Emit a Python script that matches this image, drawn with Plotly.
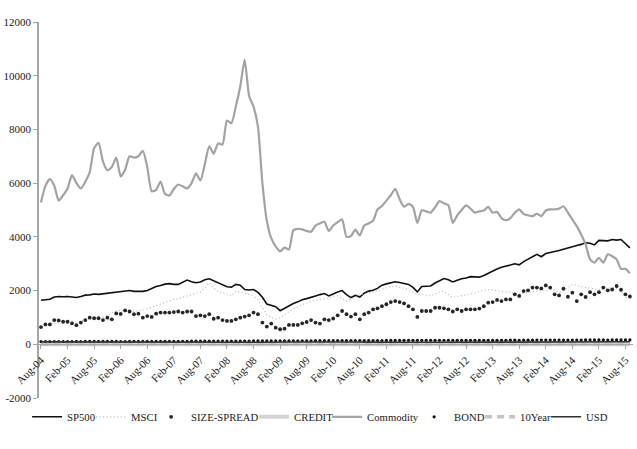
import plotly.graph_objects as go
import pandas as pd

# ---- data (monthly, Aug-04 .. Sep-15) ----
sp500 = [
    1640, 1660, 1680, 1760, 1780, 1770, 1780, 1760, 1740, 1780, 1830, 1840,
    1870, 1860, 1880, 1900, 1940, 1950, 1970, 2000, 2000, 1970, 1960, 1970,
    2000, 2090, 2150, 2190, 2240, 2260, 2230, 2230, 2300, 2390, 2330, 2290,
    2320, 2400, 2440, 2360, 2300, 2200, 2140, 2130, 2230, 2200, 2040, 2020,
    2040, 1930, 1750, 1500, 1460, 1400, 1250, 1340, 1450, 1520, 1580, 1660,
    1700, 1740, 1800, 1850, 1890, 1800, 1880, 1950, 2000, 1850, 1740, 1820,
    1760, 1900, 1980, 2010, 2080, 2200, 2250, 2300, 2330, 2300, 2270, 2230,
    2120, 1950, 2150, 2170, 2170, 2280, 2380, 2450, 2400, 2320, 2380, 2440,
    2470, 2520, 2510, 2500, 2560, 2650, 2730, 2800, 2870, 2900, 2950, 3000,
    2960, 3080, 3180, 3260, 3350, 3260, 3380, 3420, 3450, 3490, 3540, 3590,
    3650, 3680, 3720, 3780, 3760, 3700, 3870, 3850, 3850, 3900, 3880, 3900,
    3750, 3590,
]
msci = [
    660, 700, 740, 800, 830, 850, 860, 850, 820, 880, 920, 960,
    990, 1000, 1020, 1080, 1180, 1240, 1260, 1250, 1240, 1240, 1250, 1260,
    1320, 1380, 1440, 1500, 1540, 1600, 1670, 1700, 1740, 1800, 1850, 1900,
    1950, 2100, 2290, 2100, 1950, 1920, 1850, 1800, 1980, 1950, 1900, 1850,
    1800, 1650, 1400, 1100, 1000, 930, 990, 1100, 1240, 1320, 1400, 1480,
    1540, 1600, 1630, 1660, 1690, 1720, 1780, 1800, 1700, 1610, 1680, 1760,
    1850, 1880, 1920, 1950, 1980, 2050, 2100, 2150, 2170, 2120, 2080, 2040,
    1950, 1860, 1860, 1830, 1800, 1880, 1950, 1980, 1850, 1740, 1780, 1810,
    1840, 1860, 1900, 1960, 2000, 2040, 2020, 2000, 1980, 1970, 1930, 1890,
    1860, 1900, 1940, 1970, 1980, 2000, 2020, 2030, 2040, 1920, 2000, 2100,
    2230, 2200, 2150, 2110, 2080, 2060, 2040, 2070, 2090, 2110, 2080, 1980,
    1740, 1760,
]
size_spread = [
    640, 740, 740, 900, 890, 840, 840, 780, 710, 810, 900, 990,
    970, 970, 900, 990, 930, 1150, 1130, 1260, 1220, 1120, 1140, 990,
    1050, 1020, 1140, 1180, 1180, 1180, 1200, 1220, 1180, 1220, 1220, 1050,
    1080, 1050, 1120, 950, 990, 900, 870, 870, 930, 990, 1030, 1080,
    1180, 1120, 810, 660, 770, 620, 560, 580, 720, 720, 720, 780,
    830, 900, 810, 770, 930, 900, 960, 1080, 1240, 1120, 1030, 1120,
    930, 1120, 1180, 1300, 1340, 1420, 1490, 1570, 1610, 1570, 1520, 1420,
    1300, 1020, 1240, 1240, 1240, 1360, 1360, 1340, 1300, 1220, 1300, 1240,
    1300, 1300, 1300, 1330, 1420, 1550, 1570, 1650, 1610, 1670, 1670, 1860,
    1800, 1980, 2010, 2110, 2110, 2080, 2190, 2110, 1860, 1820, 2070, 1770,
    1920, 1610, 1860, 1760, 1940, 1860, 1940, 2110, 2010, 2040, 2170, 2030,
    1860, 1780,
]
credit = [
    1.8, 1.8, 1.7, 1.7, 1.6, 1.6, 1.6, 1.7, 1.8, 1.8, 1.7, 1.7,
    1.7, 1.7, 1.8, 1.8, 1.7, 1.7, 1.7, 1.8, 1.8, 1.7, 1.6, 1.6,
    1.6, 1.6, 1.6, 1.7, 1.7, 1.8, 1.9, 2.0, 2.3, 2.6, 2.8, 2.7,
    2.9, 3.0, 3.2, 3.3, 3.4, 3.6, 3.5, 3.9, 4.2, 5.0, 6.0, 6.3,
    6.1, 5.9, 5.8, 5.3, 4.7, 4.1, 3.6, 3.2, 3.0, 2.8, 2.6, 2.4,
    2.3, 2.4, 2.6, 2.7, 2.6, 2.5, 2.4, 2.3, 2.3, 2.3, 2.2, 2.1,
    2.1, 2.0, 2.1, 2.0, 2.2, 2.5, 2.8, 2.9, 2.8, 2.7, 2.7, 2.8,
    2.7, 2.6, 2.6, 2.5, 2.4, 2.3, 2.3, 2.2, 2.1, 2.0, 1.9, 1.9,
    1.9, 1.9, 1.8, 1.7, 1.7, 1.8, 1.8, 1.7, 1.7, 1.6, 1.6, 1.6,
    1.6, 1.6, 1.6, 1.7, 1.7, 1.7, 1.8, 1.8, 1.9, 2.0, 2.0, 2.1,
    2.2, 2.3, 2.3, 2.4, 2.4, 2.5, 2.5, 2.6, 2.7, 2.7, 2.8, 2.9,
    2.9, 3.0,
]
commodity = [
    5280, 5900, 6150, 5900, 5350, 5550, 5800, 6300, 6000, 5800, 6050, 6400,
    7300, 7500, 6800, 6480, 6600, 6950, 6250, 6500, 7000, 6950, 7000, 7200,
    6600, 5700, 5750, 6060, 5600, 5540, 5780, 5950, 5880, 5800, 6000, 6360,
    6100, 6700, 7370, 7100, 7480, 7440, 8330, 8230, 8850, 9600, 10590, 9250,
    8850, 8100, 6000, 4600, 3950, 3650, 3460, 3600, 3530, 4250, 4300, 4280,
    4220, 4190, 4420, 4500, 4560, 4220, 4420, 4550, 4650, 4000, 4030, 4270,
    4050, 4420, 4500, 4600, 5020, 5150, 5350, 5550, 5790, 5400, 5120, 5230,
    5120, 4520, 4990, 4950, 4900, 5100, 5330, 5250, 5180, 4520, 4800, 5000,
    5170, 5050, 4900, 4950, 4980, 5120, 4900, 4930, 4700, 4620, 4700, 4900,
    5020, 4850, 4800, 4770, 4860, 4770, 4980, 5020, 5020, 5050, 5140, 4900,
    4650, 4400, 4090, 3720, 3160, 3040, 3220, 3040, 3350, 3280, 3160, 2810,
    2810, 2640,
]
bond = [
    100, 101, 102, 102, 103, 103, 104, 104, 105, 104, 105, 106,
    106, 106, 105, 106, 106, 105, 104, 104, 105, 105, 106, 107,
    107, 108, 108, 108, 109, 110, 111, 111, 112, 113, 114, 115,
    116, 116, 117, 118, 118, 119, 119, 120, 121, 120, 119, 122,
    125, 127, 126, 126, 125, 126, 127, 127, 128, 129, 130, 131,
    131, 132, 133, 134, 134, 135, 136, 137, 137, 136, 137, 138,
    138, 139, 139, 140, 141, 141, 142, 143, 145, 146, 146, 146,
    147, 147, 148, 148, 149, 149, 149, 150, 150, 149, 148, 147,
    147, 148, 148, 147, 147, 148, 149, 150, 151, 151, 152, 152,
    151, 152, 153, 154, 155, 155, 156, 157, 157, 158, 158, 158,
    159, 160, 160, 161, 162, 163, 162, 161, 160, 161, 161, 162,
    162, 163,
]
ten_year = [
    4.3, 4.1, 4.0, 4.2, 4.2, 4.2, 4.1, 4.4, 4.5, 4.2, 4.0, 4.2,
    4.2, 4.3, 4.6, 4.5, 4.4, 4.4, 4.5, 4.6, 4.9, 5.0, 5.1, 5.1,
    4.9, 4.7, 4.6, 4.6, 4.5, 4.6, 4.7, 4.6, 4.6, 4.9, 5.0, 5.0,
    4.5, 4.5, 4.5, 4.0, 3.9, 3.7, 3.5, 3.4, 3.7, 4.1, 4.0, 3.9,
    3.8, 3.8, 3.9, 3.9, 3.0, 2.2, 2.5, 3.0, 2.7, 3.0, 3.3, 3.5,
    3.5, 3.4, 3.4, 3.2, 3.4, 3.8, 3.6, 3.7, 3.8, 3.7, 3.3, 2.9,
    2.9, 2.5, 2.5, 2.6, 2.8, 3.3, 3.3, 3.4, 3.5, 3.3, 3.2, 3.0,
    3.0, 2.2, 1.9, 2.1, 2.0, 1.9, 2.0, 2.2, 2.0, 1.9, 1.6, 1.5,
    1.6, 1.7, 1.7, 1.7, 1.6, 1.8, 2.0, 1.9, 1.9, 1.7, 2.2, 2.5,
    2.6, 2.6, 2.6, 2.8, 3.0, 2.7, 2.7, 2.7, 2.7, 2.6, 2.5, 2.6,
    2.3, 2.5, 2.3, 2.2, 2.2, 1.7, 2.0, 1.9, 2.0, 2.1, 2.4, 2.2,
    2.2, 2.0,
]
usd = [
    89, 88, 86, 83, 81, 82, 82, 83, 84, 86, 87, 89,
    88, 87, 87, 88, 90, 90, 89, 87, 89, 88, 86, 85,
    85, 85, 85, 86, 85, 83, 83, 84, 84, 83, 82, 82,
    82, 80, 79, 78, 76, 76, 75, 76, 76, 73, 73, 72,
    72, 74, 78, 83, 86, 81, 85, 87, 86, 83, 81, 80,
    79, 77, 76, 76, 76, 77, 79, 81, 80, 82, 86, 83,
    83, 82, 79, 80, 79, 77, 76, 75, 74, 74, 74, 74,
    74, 75, 77, 78, 79, 79, 80, 79, 80, 81, 79, 78,
    79, 81, 83, 82, 82, 81, 80, 80, 80, 79, 80, 81,
    82, 82, 83, 84, 82, 82, 81, 81, 81, 80, 80, 81,
    82, 84, 86, 87, 88, 90, 95, 94, 97, 95, 95, 97,
    96, 96,
]

months = [d.strftime("%b-%y") for d in pd.date_range("2004-08-01", periods=len(sp500), freq="MS")]
tick_months = months[::6]
y_ticks = [-2000, 0, 2000, 4000, 6000, 8000, 10000, 12000]
y_tick_text = ["-2000", "0", "2000", "4000", "6000", "8000", "10000", "12000"]

fig = go.Figure()
fig.add_trace(go.Scatter(x=months, y=sp500, name="SP500", mode="lines",
                         line=dict(color="#111111", width=1.6), legendwidth=19))
fig.add_trace(go.Scatter(x=months, y=msci, name="MSCI", mode="lines",
                         line=dict(color="#b8b8b8", width=1.2, dash="1px,2.5px"), legendwidth=15))
fig.add_trace(go.Scatter(x=months, y=size_spread, name="SIZE-SPREAD", mode="markers",
                         marker=dict(color="#262626", size=3.8), legendwidth=58))
fig.add_trace(go.Scatter(x=months, y=credit, name="CREDIT", mode="lines",
                         line=dict(color="#d4d4d4", width=4), legendwidth=28))
fig.add_trace(go.Scatter(x=months, y=commodity, name="Commodity", mode="lines",
                         line=dict(color="#a3a3a3", width=2.2, shape="spline", smoothing=0.6),
                         legendwidth=42))
fig.add_trace(go.Scatter(x=months, y=bond, name="BOND", mode="markers",
                         marker=dict(color="#111111", size=3.2), legendwidth=21))
fig.add_trace(go.Scatter(x=months, y=ten_year, name="10Year", mode="lines",
                         line=dict(color="#c4c4c4", width=3.5, dash="7px,5px"), legendwidth=21))
fig.add_trace(go.Scatter(x=months, y=usd, name="USD", mode="lines",
                         line=dict(color="#333333", width=1.6), legendwidth=25))

fig.update_layout(
    width=637, height=449,
    margin=dict(l=33, r=4, t=22, b=51),
    paper_bgcolor="white", plot_bgcolor="white",
    font=dict(family="Liberation Serif", size=11, color="#1a1a1a"),
    legend=dict(orientation="h", x=-0.02, xanchor="left", y=-0.05, yanchor="middle",
                bgcolor="rgba(0,0,0,0)", itemwidth=30, font=dict(size=10.7)),
)
fig.update_xaxes(
    type="category", range=[-0.45, 133.7],
    tickmode="array", tickvals=tick_months, tickangle=-45,
    ticks="outside", ticklen=4, tickcolor="#a6a6a6",
    tickfont=dict(size=11),
    showline=True, linecolor="#a6a6a6", linewidth=1.3,
    anchor="free", position=2 / 14,
    showgrid=False, zeroline=False,
)
fig.update_yaxes(
    range=[-2000, 12000], tickmode="array", tickvals=y_ticks, ticktext=y_tick_text,
    ticks="outside", ticklen=4, tickcolor="#a6a6a6",
    tickfont=dict(size=11),
    showline=True, linecolor="#a6a6a6", linewidth=1.5,
    showgrid=False, zeroline=False,
)

fig.write_html("out.html")
